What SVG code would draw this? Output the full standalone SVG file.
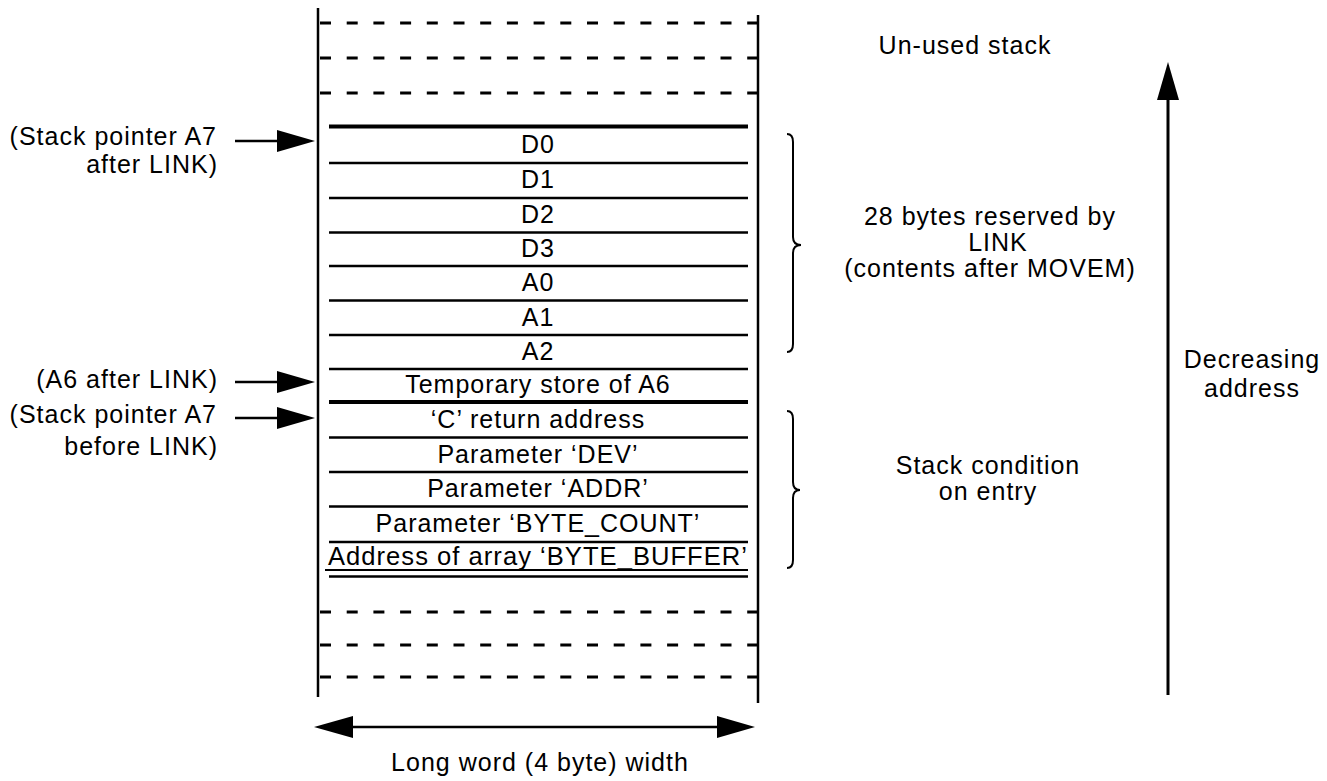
<svg xmlns="http://www.w3.org/2000/svg" width="1327" height="781" viewBox="0 0 1327 781">
<style>
text{font-family:"Liberation Sans",Arial,sans-serif;font-size:25px;fill:#000;letter-spacing:1px}
.c{text-anchor:middle}
.e{text-anchor:end}
.v{stroke:#000;stroke-width:2.5;fill:none}
.row{stroke:#000;stroke-width:2.5}
.thick{stroke:#000;stroke-width:4}
.dash{stroke:#000;stroke-width:2.8;stroke-dasharray:11 15.7}
.brace{stroke:#000;stroke-width:2;fill:none}
.ah{fill:#000}
</style>
<rect width="1327" height="781" fill="#fff"/>
<g id="stack-frame">
<line class="v" x1="318" y1="8" x2="318" y2="697"/>
<line class="v" x1="758" y1="15" x2="758" y2="703"/>
<line class="dash" x1="320" y1="23" x2="757" y2="23"/>
<line class="dash" x1="320" y1="58" x2="757" y2="58"/>
<line class="dash" x1="320" y1="93" x2="757" y2="93"/>
<line class="dash" x1="320" y1="612" x2="757" y2="612"/>
<line class="dash" x1="320" y1="645" x2="757" y2="645"/>
<line class="dash" x1="320" y1="677" x2="757" y2="677"/>
<line class="thick" x1="329" y1="126.5" x2="748" y2="126.5"/>
<line class="row" x1="329" y1="163" x2="748" y2="163"/>
<line class="row" x1="329" y1="198" x2="748" y2="198"/>
<line class="row" x1="329" y1="232.5" x2="748" y2="232.5"/>
<line class="row" x1="329" y1="266" x2="748" y2="266"/>
<line class="row" x1="329" y1="300.5" x2="748" y2="300.5"/>
<line class="row" x1="329" y1="335" x2="748" y2="335"/>
<line class="row" x1="329" y1="369" x2="748" y2="369"/>
<line class="thick" x1="329" y1="402" x2="748" y2="402"/>
<line class="row" x1="329" y1="437.5" x2="748" y2="437.5"/>
<line class="row" x1="329" y1="472" x2="748" y2="472"/>
<line class="row" x1="329" y1="506.5" x2="748" y2="506.5"/>
<line class="row" x1="329" y1="542" x2="748" y2="542"/>
<line class="row" x1="325" y1="570" x2="748" y2="570" style="stroke-width:1.8"/>
<line class="row" x1="329" y1="576.5" x2="748" y2="576.5"/>
</g>
<g id="cell-D0"><text class="c" x="538" y="153">D0</text></g>
<g id="cell-D1"><text class="c" x="538" y="188">D1</text></g>
<g id="cell-D2"><text class="c" x="538" y="223">D2</text></g>
<g id="cell-D3"><text class="c" x="538" y="257">D3</text></g>
<g id="cell-A0"><text class="c" x="538" y="291">A0</text></g>
<g id="cell-A1"><text class="c" x="538" y="326">A1</text></g>
<g id="cell-A2"><text class="c" x="538" y="360">A2</text></g>
<g id="cell-A6"><text class="c" x="538" y="393">Temporary store of A6</text></g>
<g id="cell-ret"><text class="c" x="538" y="428">‘C’ return address</text></g>
<g id="cell-dev"><text class="c" x="538" y="463">Parameter ‘DEV’</text></g>
<g id="cell-addr"><text class="c" x="538" y="497">Parameter ‘ADDR’</text></g>
<g id="cell-count"><text class="c" x="538" y="532">Parameter ‘BYTE_COUNT’</text></g>
<g id="cell-buffer"><text x="328" y="565" textLength="420" lengthAdjust="spacingAndGlyphs">Address of array ‘BYTE_BUFFER’</text></g>
<g id="label-sp-after">
<text class="e" x="217" y="145">(Stack pointer A7</text>
<text class="e" x="218" y="173">after LINK)</text>
</g>
<g id="label-a6"><text class="e" x="218" y="388">(A6 after LINK)</text></g>
<g id="label-sp-before">
<text class="e" x="217" y="423">(Stack pointer A7</text>
<text class="e" x="218" y="455">before LINK)</text>
</g>
<g id="label-unused"><text class="c" x="965" y="54">Un-used stack</text></g>
<g id="label-reserved">
<text class="c" x="990" y="225">28 bytes reserved by</text>
<text class="c" x="998" y="251">LINK</text>
<text class="c" x="990" y="277">(contents after MOVEM)</text>
</g>
<g id="label-entry">
<text class="c" x="988" y="474">Stack condition</text>
<text class="c" x="988" y="500">on entry</text>
</g>
<g id="label-decreasing">
<text class="c" x="1252" y="368">Decreasing</text>
<text class="c" x="1252" y="397">address</text>
</g>
<g id="label-width"><text class="c" x="540" y="771">Long word (4 byte) width</text></g>
<g id="connectors">
<line class="v" x1="235" y1="141" x2="280" y2="141"/>
<polygon class="ah" points="277,130 315,141 277,152"/>
<line class="v" x1="235" y1="382" x2="280" y2="382"/>
<polygon class="ah" points="277,371 315,382 277,393"/>
<line class="v" x1="235" y1="418" x2="280" y2="418"/>
<polygon class="ah" points="277,407 315,418 277,429"/>
<line class="v" x1="350" y1="727" x2="720" y2="727"/>
<polygon class="ah" points="314,727 353,716 353,738"/>
<polygon class="ah" points="755,727 717,716 717,738"/>
<line class="v" x1="1168" y1="98" x2="1168" y2="695" style="stroke-width:3"/>
<polygon class="ah" points="1168,62 1157,100 1179,100"/>
<path class="brace" d="M787,134 Q793,134 793,142 L793,237 Q793,245 801,245 Q793,245 793,253 L793,344 Q793,352 787,352"/>
<path class="brace" d="M787,411 Q793,411 793,419 L793,482 Q793,490 800,490 Q793,490 793,498 L793,560 Q793,568 787,568"/>
</g>
</svg>
